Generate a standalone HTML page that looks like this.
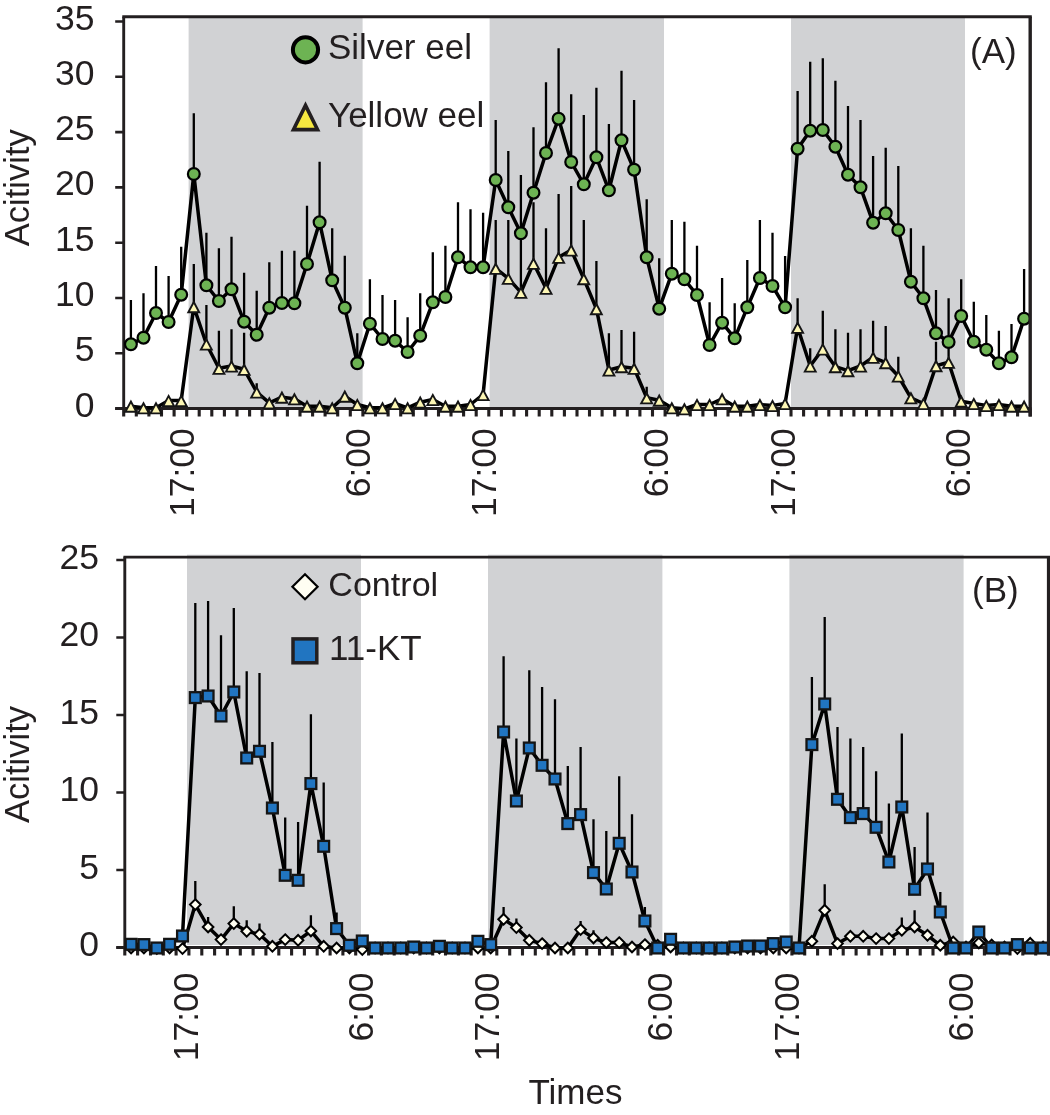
<!DOCTYPE html>
<html lang="en"><head><meta charset="utf-8"><title>Activity</title>
<style>html,body{margin:0;padding:0;background:#fff;overflow:hidden}svg{display:block}</style>
</head><body>
<svg width="1050" height="1115" viewBox="0 0 1050 1115" font-family="'Liberation Sans', sans-serif" font-size="35" fill="#231f20">
<rect width="1050" height="1115" fill="#fff"/>
<rect x="188.6" y="16.8" width="174" height="391.8" fill="#d1d2d4"/>
<rect x="489.6" y="16.8" width="174.4" height="391.8" fill="#d1d2d4"/>
<rect x="791" y="16.8" width="174" height="391.8" fill="#d1d2d4"/>
<path d="M122.3 16.8H1031.8" stroke="#231f20" stroke-width="3.1" fill="none"/>
<path d="M123.7 16.8V409.9" stroke="#231f20" stroke-width="2.9" fill="none"/>
<path d="M115.2 408.6H1031.5" stroke="#231f20" stroke-width="3" fill="none"/>
<path d="M123.7 408.6V416.6M136.3 408.6V416.6M148.9 408.6V416.6M161.5 408.6V416.6M174.1 408.6V416.6M186.7 408.6V416.6M199.2 408.6V416.6M211.8 408.6V416.6M224.4 408.6V416.6M237 408.6V416.6M249.6 408.6V416.6M262.2 408.6V416.6M274.8 408.6V416.6M287.4 408.6V416.6M300 408.6V416.6M312.6 408.6V416.6M325.1 408.6V416.6M337.7 408.6V416.6M350.3 408.6V416.6M362.9 408.6V416.6M375.5 408.6V416.6M388.1 408.6V416.6M400.7 408.6V416.6M413.3 408.6V416.6M425.9 408.6V416.6M438.5 408.6V416.6M451 408.6V416.6M463.6 408.6V416.6M476.2 408.6V416.6M488.8 408.6V416.6M501.4 408.6V416.6M514 408.6V416.6M526.6 408.6V416.6M539.2 408.6V416.6M551.8 408.6V416.6M564.4 408.6V416.6M577 408.6V416.6M589.5 408.6V416.6M602.1 408.6V416.6M614.7 408.6V416.6M627.3 408.6V416.6M639.9 408.6V416.6M652.5 408.6V416.6M665.1 408.6V416.6M677.7 408.6V416.6M690.3 408.6V416.6M702.9 408.6V416.6M715.4 408.6V416.6M728 408.6V416.6M740.6 408.6V416.6M753.2 408.6V416.6M765.8 408.6V416.6M778.4 408.6V416.6M791 408.6V416.6M803.6 408.6V416.6M816.2 408.6V416.6M828.8 408.6V416.6M841.3 408.6V416.6M853.9 408.6V416.6M866.5 408.6V416.6M879.1 408.6V416.6M891.7 408.6V416.6M904.3 408.6V416.6M916.9 408.6V416.6M929.5 408.6V416.6M942.1 408.6V416.6M954.7 408.6V416.6M967.2 408.6V416.6M979.8 408.6V416.6M992.4 408.6V416.6M1005 408.6V416.6M1017.6 408.6V416.6M1030.2 408.6V416.6" stroke="#231f20" stroke-width="3.1" fill="none"/>
<text x="94.6" y="416.6" text-anchor="end" font-size="35.5">0</text>
<text x="94.6" y="361.3" text-anchor="end" font-size="35.5">5</text>
<text x="94.6" y="306" text-anchor="end" font-size="35.5">10</text>
<text x="94.6" y="250.7" text-anchor="end" font-size="35.5">15</text>
<text x="94.6" y="195.4" text-anchor="end" font-size="35.5">20</text>
<text x="94.6" y="140.1" text-anchor="end" font-size="35.5">25</text>
<text x="94.6" y="84.8" text-anchor="end" font-size="35.5">30</text>
<text x="94.6" y="29.5" text-anchor="end" font-size="35.5">35</text>
<path d="M115.2 408.6H123.7M115.2 353.3H123.7M115.2 298H123.7M115.2 242.7H123.7M115.2 187.4H123.7M115.2 132.1H123.7M115.2 76.8H123.7M115.2 21.5H123.7" stroke="#231f20" stroke-width="2.6" fill="none"/>
<path d="M130.9 300V344.3M143.5 293.3V337.7M156 266V313M168.6 276V322M181.2 246.7V294.7M193.8 113.3V174M206.4 232.7V285.3M218.9 248.3V301M231.5 236.7V289.3M244.1 272.7V321.7M256.7 290.7V334.7M269.3 262.3V307.7M281.9 250.7V303M294.4 250.7V303.3M307 205.7V264M319.6 161.7V222.3M332.2 228.3V280.3M344.8 255.7V307.7M357.3 333.3V363.3M369.9 279.3V323.7M382.5 295V339M395.1 300V340.7M407.6 317.3V352M420.2 293.3V335.7M432.8 252.3V302.3M445.4 245.7V297M458 202.3V257.3M470.5 209.3V267.3M483.1 212.7V267.3M495.7 120V180M508.3 151V207.3M520.9 175V233.3M533.5 127.3V192.7M546 82.3V153M558.6 48.3V118.7M571.2 94.3V162M583.8 115V184.3M596.4 87.7V157.3M608.9 124V190.3M621.5 70.7V140.3M634.1 100V169.7M646.7 199.3V257.3M659.2 258.3V308.7M671.8 220V273.7M684.4 221.7V279.3M697 245.7V295M709.6 302.3V345M722.1 278V322.7M734.7 303.3V338.3M747.3 260V307.3M759.9 220V278M772.5 232.7V286M785.1 256V307.3M797.6 91V148.7M810.2 61.7V130.7M822.8 58.3V130M835.4 80.7V146.7M848 106V174.7M860.5 120V187.3M873.1 156V222.7M885.7 147.7V213.3M898.3 166V230M910.9 228.3V281.7M923.4 245.7V298.3M936 290V333.3M948.6 298.3V342M961.2 279.3V316M973.8 301.7V341.7M986.3 315V349.7M998.9 330.7V363.3M1011.5 324V357.3M1024.1 269V318.7" stroke="#000" stroke-width="2.3" fill="none"/>
<path d="M193.8 264V306.7M206.4 305V344M218.9 330.7V368.3M231.5 329.3V366M244.1 332.7V369.3M256.7 383.3V392M495.7 220V268.3M508.3 220V278.3M520.9 239.3V292.3M533.5 202.3V263.3M546 228.3V288.3M558.6 194V257.3M571.2 186V250M583.8 220V278.7M596.4 261V308.7M608.9 333.3V370M621.5 330V366.7M634.1 331.7V368.3M646.7 386.7V397.8M797.6 298.3V327.3M810.2 348.3V366M822.8 310.7V349M835.4 329.3V366.7M848 332.7V370.7M860.5 329.3V366M873.1 320.7V357.3M885.7 326V362.7M898.3 356.7V376M936 341.7V365.7M948.6 340V362.3" stroke="#000" stroke-width="2.3" fill="none"/>
<polyline points="130.9,344.3 143.5,337.7 156,313 168.6,322 181.2,294.7 193.8,174 206.4,285.3 218.9,301 231.5,289.3 244.1,321.7 256.7,334.7 269.3,307.7 281.9,303 294.4,303.3 307,264 319.6,222.3 332.2,280.3 344.8,307.7 357.3,363.3 369.9,323.7 382.5,339 395.1,340.7 407.6,352 420.2,335.7 432.8,302.3 445.4,297 458,257.3 470.5,267.3 483.1,267.3 495.7,180 508.3,207.3 520.9,233.3 533.5,192.7 546,153 558.6,118.7 571.2,162 583.8,184.3 596.4,157.3 608.9,190.3 621.5,140.3 634.1,169.7 646.7,257.3 659.2,308.7 671.8,273.7 684.4,279.3 697,295 709.6,345 722.1,322.7 734.7,338.3 747.3,307.3 759.9,278 772.5,286 785.1,307.3 797.6,148.7 810.2,130.7 822.8,130 835.4,146.7 848,174.7 860.5,187.3 873.1,222.7 885.7,213.3 898.3,230 910.9,281.7 923.4,298.3 936,333.3 948.6,342 961.2,316 973.8,341.7 986.3,349.7 998.9,363.3 1011.5,357.3 1024.1,318.7" fill="none" stroke="#000" stroke-width="3.5" stroke-linejoin="round"/>
<circle cx="130.9" cy="344.3" r="5.9" fill="#6db353" stroke="#000" stroke-width="2.2"/>
<circle cx="143.5" cy="337.7" r="5.9" fill="#6db353" stroke="#000" stroke-width="2.2"/>
<circle cx="156" cy="313" r="5.9" fill="#6db353" stroke="#000" stroke-width="2.2"/>
<circle cx="168.6" cy="322" r="5.9" fill="#6db353" stroke="#000" stroke-width="2.2"/>
<circle cx="181.2" cy="294.7" r="5.9" fill="#6db353" stroke="#000" stroke-width="2.2"/>
<circle cx="193.8" cy="174" r="5.9" fill="#6db353" stroke="#000" stroke-width="2.2"/>
<circle cx="206.4" cy="285.3" r="5.9" fill="#6db353" stroke="#000" stroke-width="2.2"/>
<circle cx="218.9" cy="301" r="5.9" fill="#6db353" stroke="#000" stroke-width="2.2"/>
<circle cx="231.5" cy="289.3" r="5.9" fill="#6db353" stroke="#000" stroke-width="2.2"/>
<circle cx="244.1" cy="321.7" r="5.9" fill="#6db353" stroke="#000" stroke-width="2.2"/>
<circle cx="256.7" cy="334.7" r="5.9" fill="#6db353" stroke="#000" stroke-width="2.2"/>
<circle cx="269.3" cy="307.7" r="5.9" fill="#6db353" stroke="#000" stroke-width="2.2"/>
<circle cx="281.9" cy="303" r="5.9" fill="#6db353" stroke="#000" stroke-width="2.2"/>
<circle cx="294.4" cy="303.3" r="5.9" fill="#6db353" stroke="#000" stroke-width="2.2"/>
<circle cx="307" cy="264" r="5.9" fill="#6db353" stroke="#000" stroke-width="2.2"/>
<circle cx="319.6" cy="222.3" r="5.9" fill="#6db353" stroke="#000" stroke-width="2.2"/>
<circle cx="332.2" cy="280.3" r="5.9" fill="#6db353" stroke="#000" stroke-width="2.2"/>
<circle cx="344.8" cy="307.7" r="5.9" fill="#6db353" stroke="#000" stroke-width="2.2"/>
<circle cx="357.3" cy="363.3" r="5.9" fill="#6db353" stroke="#000" stroke-width="2.2"/>
<circle cx="369.9" cy="323.7" r="5.9" fill="#6db353" stroke="#000" stroke-width="2.2"/>
<circle cx="382.5" cy="339" r="5.9" fill="#6db353" stroke="#000" stroke-width="2.2"/>
<circle cx="395.1" cy="340.7" r="5.9" fill="#6db353" stroke="#000" stroke-width="2.2"/>
<circle cx="407.6" cy="352" r="5.9" fill="#6db353" stroke="#000" stroke-width="2.2"/>
<circle cx="420.2" cy="335.7" r="5.9" fill="#6db353" stroke="#000" stroke-width="2.2"/>
<circle cx="432.8" cy="302.3" r="5.9" fill="#6db353" stroke="#000" stroke-width="2.2"/>
<circle cx="445.4" cy="297" r="5.9" fill="#6db353" stroke="#000" stroke-width="2.2"/>
<circle cx="458" cy="257.3" r="5.9" fill="#6db353" stroke="#000" stroke-width="2.2"/>
<circle cx="470.5" cy="267.3" r="5.9" fill="#6db353" stroke="#000" stroke-width="2.2"/>
<circle cx="483.1" cy="267.3" r="5.9" fill="#6db353" stroke="#000" stroke-width="2.2"/>
<circle cx="495.7" cy="180" r="5.9" fill="#6db353" stroke="#000" stroke-width="2.2"/>
<circle cx="508.3" cy="207.3" r="5.9" fill="#6db353" stroke="#000" stroke-width="2.2"/>
<circle cx="520.9" cy="233.3" r="5.9" fill="#6db353" stroke="#000" stroke-width="2.2"/>
<circle cx="533.5" cy="192.7" r="5.9" fill="#6db353" stroke="#000" stroke-width="2.2"/>
<circle cx="546" cy="153" r="5.9" fill="#6db353" stroke="#000" stroke-width="2.2"/>
<circle cx="558.6" cy="118.7" r="5.9" fill="#6db353" stroke="#000" stroke-width="2.2"/>
<circle cx="571.2" cy="162" r="5.9" fill="#6db353" stroke="#000" stroke-width="2.2"/>
<circle cx="583.8" cy="184.3" r="5.9" fill="#6db353" stroke="#000" stroke-width="2.2"/>
<circle cx="596.4" cy="157.3" r="5.9" fill="#6db353" stroke="#000" stroke-width="2.2"/>
<circle cx="608.9" cy="190.3" r="5.9" fill="#6db353" stroke="#000" stroke-width="2.2"/>
<circle cx="621.5" cy="140.3" r="5.9" fill="#6db353" stroke="#000" stroke-width="2.2"/>
<circle cx="634.1" cy="169.7" r="5.9" fill="#6db353" stroke="#000" stroke-width="2.2"/>
<circle cx="646.7" cy="257.3" r="5.9" fill="#6db353" stroke="#000" stroke-width="2.2"/>
<circle cx="659.2" cy="308.7" r="5.9" fill="#6db353" stroke="#000" stroke-width="2.2"/>
<circle cx="671.8" cy="273.7" r="5.9" fill="#6db353" stroke="#000" stroke-width="2.2"/>
<circle cx="684.4" cy="279.3" r="5.9" fill="#6db353" stroke="#000" stroke-width="2.2"/>
<circle cx="697" cy="295" r="5.9" fill="#6db353" stroke="#000" stroke-width="2.2"/>
<circle cx="709.6" cy="345" r="5.9" fill="#6db353" stroke="#000" stroke-width="2.2"/>
<circle cx="722.1" cy="322.7" r="5.9" fill="#6db353" stroke="#000" stroke-width="2.2"/>
<circle cx="734.7" cy="338.3" r="5.9" fill="#6db353" stroke="#000" stroke-width="2.2"/>
<circle cx="747.3" cy="307.3" r="5.9" fill="#6db353" stroke="#000" stroke-width="2.2"/>
<circle cx="759.9" cy="278" r="5.9" fill="#6db353" stroke="#000" stroke-width="2.2"/>
<circle cx="772.5" cy="286" r="5.9" fill="#6db353" stroke="#000" stroke-width="2.2"/>
<circle cx="785.1" cy="307.3" r="5.9" fill="#6db353" stroke="#000" stroke-width="2.2"/>
<circle cx="797.6" cy="148.7" r="5.9" fill="#6db353" stroke="#000" stroke-width="2.2"/>
<circle cx="810.2" cy="130.7" r="5.9" fill="#6db353" stroke="#000" stroke-width="2.2"/>
<circle cx="822.8" cy="130" r="5.9" fill="#6db353" stroke="#000" stroke-width="2.2"/>
<circle cx="835.4" cy="146.7" r="5.9" fill="#6db353" stroke="#000" stroke-width="2.2"/>
<circle cx="848" cy="174.7" r="5.9" fill="#6db353" stroke="#000" stroke-width="2.2"/>
<circle cx="860.5" cy="187.3" r="5.9" fill="#6db353" stroke="#000" stroke-width="2.2"/>
<circle cx="873.1" cy="222.7" r="5.9" fill="#6db353" stroke="#000" stroke-width="2.2"/>
<circle cx="885.7" cy="213.3" r="5.9" fill="#6db353" stroke="#000" stroke-width="2.2"/>
<circle cx="898.3" cy="230" r="5.9" fill="#6db353" stroke="#000" stroke-width="2.2"/>
<circle cx="910.9" cy="281.7" r="5.9" fill="#6db353" stroke="#000" stroke-width="2.2"/>
<circle cx="923.4" cy="298.3" r="5.9" fill="#6db353" stroke="#000" stroke-width="2.2"/>
<circle cx="936" cy="333.3" r="5.9" fill="#6db353" stroke="#000" stroke-width="2.2"/>
<circle cx="948.6" cy="342" r="5.9" fill="#6db353" stroke="#000" stroke-width="2.2"/>
<circle cx="961.2" cy="316" r="5.9" fill="#6db353" stroke="#000" stroke-width="2.2"/>
<circle cx="973.8" cy="341.7" r="5.9" fill="#6db353" stroke="#000" stroke-width="2.2"/>
<circle cx="986.3" cy="349.7" r="5.9" fill="#6db353" stroke="#000" stroke-width="2.2"/>
<circle cx="998.9" cy="363.3" r="5.9" fill="#6db353" stroke="#000" stroke-width="2.2"/>
<circle cx="1011.5" cy="357.3" r="5.9" fill="#6db353" stroke="#000" stroke-width="2.2"/>
<circle cx="1024.1" cy="318.7" r="5.9" fill="#6db353" stroke="#000" stroke-width="2.2"/>
<polyline points="130.9,406.2 143.5,407.8 156,407.8 168.6,400.5 181.2,400.5 193.8,306.7 206.4,344 218.9,368.3 231.5,366 244.1,369.3 256.7,392 269.3,402.8 281.9,397.2 294.4,398.8 307,406.2 319.6,406.2 332.2,407.8 344.8,396.2 357.3,404.5 369.9,407.8 382.5,407.8 395.1,403.5 407.6,407.8 420.2,402.2 432.8,399.5 445.4,406.2 458,406.2 470.5,404.5 483.1,394.5 495.7,268.3 508.3,278.3 520.9,292.3 533.5,263.3 546,288.3 558.6,257.3 571.2,250 583.8,278.7 596.4,308.7 608.9,370 621.5,366.7 634.1,368.3 646.7,397.8 659.2,400.2 671.8,407.8 684.4,408.8 697,404.5 709.6,404.5 722.1,398.8 734.7,406.2 747.3,406.2 759.9,404.5 772.5,405.5 785.1,403.5 797.6,327.3 810.2,366 822.8,349 835.4,366.7 848,370.7 860.5,366 873.1,357.3 885.7,362.7 898.3,376 910.9,397.8 923.4,403.5 936,365.7 948.6,362.3 961.2,401.2 973.8,403.5 986.3,405.5 998.9,404.5 1011.5,406.2 1024.1,406.2" fill="none" stroke="#000" stroke-width="3.5" stroke-linejoin="round"/>
<path d="M130.9 401.5L136.3 411.7L125.4 411.7Z" fill="#fdf7b5" stroke="#151515" stroke-width="1.9"/>
<path d="M143.5 403.2L148.9 413.4L138 413.4Z" fill="#fdf7b5" stroke="#151515" stroke-width="1.9"/>
<path d="M156 403.2L161.5 413.4L150.6 413.4Z" fill="#fdf7b5" stroke="#151515" stroke-width="1.9"/>
<path d="M168.6 395.9L174.1 406.1L163.2 406.1Z" fill="#fdf7b5" stroke="#151515" stroke-width="1.9"/>
<path d="M181.2 395.9L186.7 406.1L175.8 406.1Z" fill="#fdf7b5" stroke="#151515" stroke-width="1.9"/>
<path d="M193.8 302L199.2 312.2L188.3 312.2Z" fill="#fdf7b5" stroke="#151515" stroke-width="1.9"/>
<path d="M206.4 339.4L211.8 349.6L200.9 349.6Z" fill="#fdf7b5" stroke="#151515" stroke-width="1.9"/>
<path d="M218.9 363.7L224.4 373.9L213.5 373.9Z" fill="#fdf7b5" stroke="#151515" stroke-width="1.9"/>
<path d="M231.5 361.4L237 371.6L226.1 371.6Z" fill="#fdf7b5" stroke="#151515" stroke-width="1.9"/>
<path d="M244.1 364.7L249.6 374.9L238.7 374.9Z" fill="#fdf7b5" stroke="#151515" stroke-width="1.9"/>
<path d="M256.7 387.4L262.1 397.6L251.2 397.6Z" fill="#fdf7b5" stroke="#151515" stroke-width="1.9"/>
<path d="M269.3 398.2L274.7 408.4L263.8 408.4Z" fill="#fdf7b5" stroke="#151515" stroke-width="1.9"/>
<path d="M281.9 392.5L287.3 402.7L276.4 402.7Z" fill="#fdf7b5" stroke="#151515" stroke-width="1.9"/>
<path d="M294.4 394.2L299.9 404.4L289 404.4Z" fill="#fdf7b5" stroke="#151515" stroke-width="1.9"/>
<path d="M307 401.5L312.5 411.7L301.6 411.7Z" fill="#fdf7b5" stroke="#151515" stroke-width="1.9"/>
<path d="M319.6 401.5L325 411.7L314.1 411.7Z" fill="#fdf7b5" stroke="#151515" stroke-width="1.9"/>
<path d="M332.2 403.2L337.6 413.4L326.7 413.4Z" fill="#fdf7b5" stroke="#151515" stroke-width="1.9"/>
<path d="M344.8 391.5L350.2 401.7L339.3 401.7Z" fill="#fdf7b5" stroke="#151515" stroke-width="1.9"/>
<path d="M357.3 399.9L362.8 410.1L351.9 410.1Z" fill="#fdf7b5" stroke="#151515" stroke-width="1.9"/>
<path d="M369.9 403.2L375.4 413.4L364.5 413.4Z" fill="#fdf7b5" stroke="#151515" stroke-width="1.9"/>
<path d="M382.5 403.2L387.9 413.4L377 413.4Z" fill="#fdf7b5" stroke="#151515" stroke-width="1.9"/>
<path d="M395.1 398.9L400.5 409.1L389.6 409.1Z" fill="#fdf7b5" stroke="#151515" stroke-width="1.9"/>
<path d="M407.6 403.2L413.1 413.4L402.2 413.4Z" fill="#fdf7b5" stroke="#151515" stroke-width="1.9"/>
<path d="M420.2 397.5L425.7 407.7L414.8 407.7Z" fill="#fdf7b5" stroke="#151515" stroke-width="1.9"/>
<path d="M432.8 394.9L438.3 405.1L427.4 405.1Z" fill="#fdf7b5" stroke="#151515" stroke-width="1.9"/>
<path d="M445.4 401.5L450.8 411.7L439.9 411.7Z" fill="#fdf7b5" stroke="#151515" stroke-width="1.9"/>
<path d="M458 401.5L463.4 411.7L452.5 411.7Z" fill="#fdf7b5" stroke="#151515" stroke-width="1.9"/>
<path d="M470.5 399.9L476 410.1L465.1 410.1Z" fill="#fdf7b5" stroke="#151515" stroke-width="1.9"/>
<path d="M483.1 389.9L488.6 400.1L477.7 400.1Z" fill="#fdf7b5" stroke="#151515" stroke-width="1.9"/>
<path d="M495.7 263.7L501.2 273.9L490.3 273.9Z" fill="#fdf7b5" stroke="#151515" stroke-width="1.9"/>
<path d="M508.3 273.7L513.7 283.9L502.8 283.9Z" fill="#fdf7b5" stroke="#151515" stroke-width="1.9"/>
<path d="M520.9 287.7L526.3 297.9L515.4 297.9Z" fill="#fdf7b5" stroke="#151515" stroke-width="1.9"/>
<path d="M533.5 258.7L538.9 268.9L528 268.9Z" fill="#fdf7b5" stroke="#151515" stroke-width="1.9"/>
<path d="M546 283.7L551.5 293.9L540.6 293.9Z" fill="#fdf7b5" stroke="#151515" stroke-width="1.9"/>
<path d="M558.6 252.7L564.1 262.9L553.2 262.9Z" fill="#fdf7b5" stroke="#151515" stroke-width="1.9"/>
<path d="M571.2 245.3L576.6 255.6L565.7 255.6Z" fill="#fdf7b5" stroke="#151515" stroke-width="1.9"/>
<path d="M583.8 274L589.2 284.2L578.3 284.2Z" fill="#fdf7b5" stroke="#151515" stroke-width="1.9"/>
<path d="M596.4 304L601.8 314.2L590.9 314.2Z" fill="#fdf7b5" stroke="#151515" stroke-width="1.9"/>
<path d="M608.9 365.4L614.4 375.6L603.5 375.6Z" fill="#fdf7b5" stroke="#151515" stroke-width="1.9"/>
<path d="M621.5 362L627 372.2L616.1 372.2Z" fill="#fdf7b5" stroke="#151515" stroke-width="1.9"/>
<path d="M634.1 363.7L639.5 373.9L628.6 373.9Z" fill="#fdf7b5" stroke="#151515" stroke-width="1.9"/>
<path d="M646.7 393.2L652.1 403.4L641.2 403.4Z" fill="#fdf7b5" stroke="#151515" stroke-width="1.9"/>
<path d="M659.2 395.5L664.7 405.7L653.8 405.7Z" fill="#fdf7b5" stroke="#151515" stroke-width="1.9"/>
<path d="M671.8 403.2L677.3 413.4L666.4 413.4Z" fill="#fdf7b5" stroke="#151515" stroke-width="1.9"/>
<path d="M684.4 404.2L689.9 414.4L679 414.4Z" fill="#fdf7b5" stroke="#151515" stroke-width="1.9"/>
<path d="M697 399.9L702.4 410.1L691.5 410.1Z" fill="#fdf7b5" stroke="#151515" stroke-width="1.9"/>
<path d="M709.6 399.9L715 410.1L704.1 410.1Z" fill="#fdf7b5" stroke="#151515" stroke-width="1.9"/>
<path d="M722.1 394.2L727.6 404.4L716.7 404.4Z" fill="#fdf7b5" stroke="#151515" stroke-width="1.9"/>
<path d="M734.7 401.5L740.2 411.7L729.3 411.7Z" fill="#fdf7b5" stroke="#151515" stroke-width="1.9"/>
<path d="M747.3 401.5L752.8 411.7L741.9 411.7Z" fill="#fdf7b5" stroke="#151515" stroke-width="1.9"/>
<path d="M759.9 399.9L765.3 410.1L754.4 410.1Z" fill="#fdf7b5" stroke="#151515" stroke-width="1.9"/>
<path d="M772.5 400.9L777.9 411.1L767 411.1Z" fill="#fdf7b5" stroke="#151515" stroke-width="1.9"/>
<path d="M785.1 398.9L790.5 409.1L779.6 409.1Z" fill="#fdf7b5" stroke="#151515" stroke-width="1.9"/>
<path d="M797.6 322.7L803.1 332.9L792.2 332.9Z" fill="#fdf7b5" stroke="#151515" stroke-width="1.9"/>
<path d="M810.2 361.4L815.7 371.6L804.8 371.6Z" fill="#fdf7b5" stroke="#151515" stroke-width="1.9"/>
<path d="M822.8 344.4L828.2 354.6L817.3 354.6Z" fill="#fdf7b5" stroke="#151515" stroke-width="1.9"/>
<path d="M835.4 362L840.8 372.2L829.9 372.2Z" fill="#fdf7b5" stroke="#151515" stroke-width="1.9"/>
<path d="M848 366L853.4 376.2L842.5 376.2Z" fill="#fdf7b5" stroke="#151515" stroke-width="1.9"/>
<path d="M860.5 361.4L866 371.6L855.1 371.6Z" fill="#fdf7b5" stroke="#151515" stroke-width="1.9"/>
<path d="M873.1 352.7L878.6 362.9L867.7 362.9Z" fill="#fdf7b5" stroke="#151515" stroke-width="1.9"/>
<path d="M885.7 358L891.1 368.2L880.2 368.2Z" fill="#fdf7b5" stroke="#151515" stroke-width="1.9"/>
<path d="M898.3 371.4L903.7 381.6L892.8 381.6Z" fill="#fdf7b5" stroke="#151515" stroke-width="1.9"/>
<path d="M910.9 393.2L916.3 403.4L905.4 403.4Z" fill="#fdf7b5" stroke="#151515" stroke-width="1.9"/>
<path d="M923.4 398.9L928.9 409.1L918 409.1Z" fill="#fdf7b5" stroke="#151515" stroke-width="1.9"/>
<path d="M936 361L941.5 371.2L930.6 371.2Z" fill="#fdf7b5" stroke="#151515" stroke-width="1.9"/>
<path d="M948.6 357.7L954 367.9L943.1 367.9Z" fill="#fdf7b5" stroke="#151515" stroke-width="1.9"/>
<path d="M961.2 396.5L966.6 406.7L955.7 406.7Z" fill="#fdf7b5" stroke="#151515" stroke-width="1.9"/>
<path d="M973.8 398.9L979.2 409.1L968.3 409.1Z" fill="#fdf7b5" stroke="#151515" stroke-width="1.9"/>
<path d="M986.3 400.9L991.8 411.1L980.9 411.1Z" fill="#fdf7b5" stroke="#151515" stroke-width="1.9"/>
<path d="M998.9 399.9L1004.4 410.1L993.5 410.1Z" fill="#fdf7b5" stroke="#151515" stroke-width="1.9"/>
<path d="M1011.5 401.5L1016.9 411.7L1006 411.7Z" fill="#fdf7b5" stroke="#151515" stroke-width="1.9"/>
<path d="M1024.1 401.5L1029.5 411.7L1018.6 411.7Z" fill="#fdf7b5" stroke="#151515" stroke-width="1.9"/>
<path d="M1030.2 16.8V416.6" stroke="#231f20" stroke-width="3.4" fill="none"/>
<rect x="187" y="554.7" width="174" height="390.3" fill="#d1d2d4"/>
<rect x="488" y="554.7" width="174.4" height="390.3" fill="#d1d2d4"/>
<rect x="789.4" y="554.7" width="174.2" height="390.3" fill="#d1d2d4"/>
<path d="M123.4 557.2H1050.1" stroke="#231f20" stroke-width="2.8" fill="none"/>
<path d="M124.8 557.2V948.8" stroke="#231f20" stroke-width="2.9" fill="none"/>
<path d="M116.3 947.5H1049.8" stroke="#231f20" stroke-width="3" fill="none"/>
<path d="M124.8 947.5V955.5M137.6 947.5V955.5M150.5 947.5V955.5M163.3 947.5V955.5M176.1 947.5V955.5M188.9 947.5V955.5M201.8 947.5V955.5M214.6 947.5V955.5M227.4 947.5V955.5M240.3 947.5V955.5M253.1 947.5V955.5M265.9 947.5V955.5M278.8 947.5V955.5M291.6 947.5V955.5M304.4 947.5V955.5M317.2 947.5V955.5M330.1 947.5V955.5M342.9 947.5V955.5M355.7 947.5V955.5M368.6 947.5V955.5M381.4 947.5V955.5M394.2 947.5V955.5M407 947.5V955.5M419.9 947.5V955.5M432.7 947.5V955.5M445.5 947.5V955.5M458.4 947.5V955.5M471.2 947.5V955.5M484 947.5V955.5M496.8 947.5V955.5M509.7 947.5V955.5M522.5 947.5V955.5M535.3 947.5V955.5M548.2 947.5V955.5M561 947.5V955.5M573.8 947.5V955.5M586.7 947.5V955.5M599.5 947.5V955.5M612.3 947.5V955.5M625.1 947.5V955.5M638 947.5V955.5M650.8 947.5V955.5M663.6 947.5V955.5M676.5 947.5V955.5M689.3 947.5V955.5M702.1 947.5V955.5M714.9 947.5V955.5M727.8 947.5V955.5M740.6 947.5V955.5M753.4 947.5V955.5M766.3 947.5V955.5M779.1 947.5V955.5M791.9 947.5V955.5M804.7 947.5V955.5M817.6 947.5V955.5M830.4 947.5V955.5M843.2 947.5V955.5M856.1 947.5V955.5M868.9 947.5V955.5M881.7 947.5V955.5M894.5 947.5V955.5M907.4 947.5V955.5M920.2 947.5V955.5M933 947.5V955.5M945.9 947.5V955.5M958.7 947.5V955.5M971.5 947.5V955.5M984.4 947.5V955.5M997.2 947.5V955.5M1010 947.5V955.5M1022.8 947.5V955.5M1035.7 947.5V955.5M1048.5 947.5V955.5" stroke="#231f20" stroke-width="3.1" fill="none"/>
<text x="98.9" y="956.4" text-anchor="end" font-size="35.5">0</text>
<text x="98.9" y="878.9" text-anchor="end" font-size="35.5">5</text>
<text x="98.9" y="801.4" text-anchor="end" font-size="35.5">10</text>
<text x="98.9" y="723.9" text-anchor="end" font-size="35.5">15</text>
<text x="98.9" y="646.4" text-anchor="end" font-size="35.5">20</text>
<text x="98.9" y="568.9" text-anchor="end" font-size="35.5">25</text>
<path d="M116.3 947.5H124.8M116.3 870H124.8M116.3 792.5H124.8M116.3 715H124.8M116.3 637.5H124.8M116.3 560H124.8" stroke="#231f20" stroke-width="2.6" fill="none"/>
<path d="M195.3 881V904.6M208.1 917V927M233.8 906.3V923.6M246.7 920.3V931.3M259.5 923.6V934.3M310.9 915.3V931M503.6 907V919.3M516.4 918.6V927.6M580.6 921V929.6M593.5 930.3V938M824.7 884.3V910.3M901.8 917.6V930.3M914.6 910.3V927" stroke="#000" stroke-width="2.3" fill="none"/>
<path d="M195.3 603V697.6M208.1 601V696M221 635.3V716M233.8 608V692M246.7 671.3V758M259.5 673V751.3M272.4 742V808M285.2 817.6V875.3M298.1 822V880.3M310.9 714.3V783.6M323.7 782.6V846.3M336.6 912.6V928.6M503.6 656.3V732M516.4 738.6V801M529.3 670.3V748M542.1 687V765.3M555 699.3V779M567.8 766V823.6M580.6 747V814.6M593.5 819.3V872.6M606.3 831V889M619.2 776.3V843.3M632 814.3V872M644.9 907V921M811.9 677V744.6M824.7 617V704M837.5 727V799.3M850.4 738.6V817.6M863.2 747V813.6M876.1 771.3V827.3M888.9 803.6V862M901.8 733.6V807M914.6 847V889.3M927.5 812.6V869M940.3 892V912" stroke="#000" stroke-width="2.3" fill="none"/>
<polyline points="131.1,948 143.9,948 156.8,948.6 169.6,948 182.5,948.6 195.3,904.6 208.1,927 221,939.6 233.8,923.6 246.7,931.3 259.5,934.3 272.4,946.3 285.2,939.6 298.1,940.3 310.9,931 323.7,946.3 336.6,948 349.4,948 362.3,949.6 375.1,948 388,948 400.8,948 413.7,948 426.5,948 439.4,948 452.2,948 465,948 477.9,948 490.7,948 503.6,919.3 516.4,927.6 529.3,940.3 542.1,943.6 555,948 567.8,948 580.6,929.6 593.5,938 606.3,942.6 619.2,942.6 632,947 644.9,944.6 657.7,945.3 670.6,947 683.4,948 696.3,948 709.1,948 721.9,948 734.8,948 747.6,948 760.5,948 773.3,948 786.2,948 799,948 811.9,941.3 824.7,910.3 837.5,943.6 850.4,936.3 863.2,936.3 876.1,938.6 888.9,938.6 901.8,930.3 914.6,927 927.5,935.3 940.3,945.3 953.2,942 966,947 978.8,943 991.7,945 1004.5,947 1017.4,948.6 1030.2,943.3 1043.1,947" fill="none" stroke="#000" stroke-width="3.5" stroke-linejoin="round"/>
<path d="M131.1 942.7L136.4 948L131.1 953.3L125.8 948Z" fill="#fffef2" stroke="#000" stroke-width="2.0"/>
<path d="M143.9 942.7L149.2 948L143.9 953.3L138.6 948Z" fill="#fffef2" stroke="#000" stroke-width="2.0"/>
<path d="M156.8 943.3L162.1 948.6L156.8 953.9L151.5 948.6Z" fill="#fffef2" stroke="#000" stroke-width="2.0"/>
<path d="M169.6 942.7L174.9 948L169.6 953.3L164.3 948Z" fill="#fffef2" stroke="#000" stroke-width="2.0"/>
<path d="M182.5 943.3L187.8 948.6L182.5 953.9L177.2 948.6Z" fill="#fffef2" stroke="#000" stroke-width="2.0"/>
<path d="M195.3 899.3L200.6 904.6L195.3 909.9L190 904.6Z" fill="#fffef2" stroke="#000" stroke-width="2.0"/>
<path d="M208.1 921.7L213.4 927L208.1 932.3L202.8 927Z" fill="#fffef2" stroke="#000" stroke-width="2.0"/>
<path d="M221 934.3L226.3 939.6L221 944.9L215.7 939.6Z" fill="#fffef2" stroke="#000" stroke-width="2.0"/>
<path d="M233.8 918.3L239.1 923.6L233.8 928.9L228.5 923.6Z" fill="#fffef2" stroke="#000" stroke-width="2.0"/>
<path d="M246.7 926L252 931.3L246.7 936.6L241.4 931.3Z" fill="#fffef2" stroke="#000" stroke-width="2.0"/>
<path d="M259.5 929L264.8 934.3L259.5 939.6L254.2 934.3Z" fill="#fffef2" stroke="#000" stroke-width="2.0"/>
<path d="M272.4 941L277.7 946.3L272.4 951.6L267.1 946.3Z" fill="#fffef2" stroke="#000" stroke-width="2.0"/>
<path d="M285.2 934.3L290.5 939.6L285.2 944.9L279.9 939.6Z" fill="#fffef2" stroke="#000" stroke-width="2.0"/>
<path d="M298.1 935L303.4 940.3L298.1 945.6L292.8 940.3Z" fill="#fffef2" stroke="#000" stroke-width="2.0"/>
<path d="M310.9 925.7L316.2 931L310.9 936.3L305.6 931Z" fill="#fffef2" stroke="#000" stroke-width="2.0"/>
<path d="M323.7 941L329 946.3L323.7 951.6L318.4 946.3Z" fill="#fffef2" stroke="#000" stroke-width="2.0"/>
<path d="M336.6 942.7L341.9 948L336.6 953.3L331.3 948Z" fill="#fffef2" stroke="#000" stroke-width="2.0"/>
<path d="M349.4 942.7L354.7 948L349.4 953.3L344.1 948Z" fill="#fffef2" stroke="#000" stroke-width="2.0"/>
<path d="M362.3 944.3L367.6 949.6L362.3 954.9L357 949.6Z" fill="#fffef2" stroke="#000" stroke-width="2.0"/>
<path d="M375.1 942.7L380.4 948L375.1 953.3L369.8 948Z" fill="#fffef2" stroke="#000" stroke-width="2.0"/>
<path d="M388 942.7L393.3 948L388 953.3L382.7 948Z" fill="#fffef2" stroke="#000" stroke-width="2.0"/>
<path d="M400.8 942.7L406.1 948L400.8 953.3L395.5 948Z" fill="#fffef2" stroke="#000" stroke-width="2.0"/>
<path d="M413.7 942.7L419 948L413.7 953.3L408.4 948Z" fill="#fffef2" stroke="#000" stroke-width="2.0"/>
<path d="M426.5 942.7L431.8 948L426.5 953.3L421.2 948Z" fill="#fffef2" stroke="#000" stroke-width="2.0"/>
<path d="M439.4 942.7L444.7 948L439.4 953.3L434.1 948Z" fill="#fffef2" stroke="#000" stroke-width="2.0"/>
<path d="M452.2 942.7L457.5 948L452.2 953.3L446.9 948Z" fill="#fffef2" stroke="#000" stroke-width="2.0"/>
<path d="M465 942.7L470.3 948L465 953.3L459.7 948Z" fill="#fffef2" stroke="#000" stroke-width="2.0"/>
<path d="M477.9 942.7L483.2 948L477.9 953.3L472.6 948Z" fill="#fffef2" stroke="#000" stroke-width="2.0"/>
<path d="M490.7 942.7L496 948L490.7 953.3L485.4 948Z" fill="#fffef2" stroke="#000" stroke-width="2.0"/>
<path d="M503.6 914L508.9 919.3L503.6 924.6L498.3 919.3Z" fill="#fffef2" stroke="#000" stroke-width="2.0"/>
<path d="M516.4 922.3L521.7 927.6L516.4 932.9L511.1 927.6Z" fill="#fffef2" stroke="#000" stroke-width="2.0"/>
<path d="M529.3 935L534.6 940.3L529.3 945.6L524 940.3Z" fill="#fffef2" stroke="#000" stroke-width="2.0"/>
<path d="M542.1 938.3L547.4 943.6L542.1 948.9L536.8 943.6Z" fill="#fffef2" stroke="#000" stroke-width="2.0"/>
<path d="M555 942.7L560.3 948L555 953.3L549.7 948Z" fill="#fffef2" stroke="#000" stroke-width="2.0"/>
<path d="M567.8 942.7L573.1 948L567.8 953.3L562.5 948Z" fill="#fffef2" stroke="#000" stroke-width="2.0"/>
<path d="M580.6 924.3L585.9 929.6L580.6 934.9L575.3 929.6Z" fill="#fffef2" stroke="#000" stroke-width="2.0"/>
<path d="M593.5 932.7L598.8 938L593.5 943.3L588.2 938Z" fill="#fffef2" stroke="#000" stroke-width="2.0"/>
<path d="M606.3 937.3L611.6 942.6L606.3 947.9L601 942.6Z" fill="#fffef2" stroke="#000" stroke-width="2.0"/>
<path d="M619.2 937.3L624.5 942.6L619.2 947.9L613.9 942.6Z" fill="#fffef2" stroke="#000" stroke-width="2.0"/>
<path d="M632 941.7L637.3 947L632 952.3L626.7 947Z" fill="#fffef2" stroke="#000" stroke-width="2.0"/>
<path d="M644.9 939.3L650.2 944.6L644.9 949.9L639.6 944.6Z" fill="#fffef2" stroke="#000" stroke-width="2.0"/>
<path d="M657.7 940L663 945.3L657.7 950.6L652.4 945.3Z" fill="#fffef2" stroke="#000" stroke-width="2.0"/>
<path d="M670.6 941.7L675.9 947L670.6 952.3L665.3 947Z" fill="#fffef2" stroke="#000" stroke-width="2.0"/>
<path d="M683.4 942.7L688.7 948L683.4 953.3L678.1 948Z" fill="#fffef2" stroke="#000" stroke-width="2.0"/>
<path d="M696.3 942.7L701.6 948L696.3 953.3L691 948Z" fill="#fffef2" stroke="#000" stroke-width="2.0"/>
<path d="M709.1 942.7L714.4 948L709.1 953.3L703.8 948Z" fill="#fffef2" stroke="#000" stroke-width="2.0"/>
<path d="M721.9 942.7L727.2 948L721.9 953.3L716.6 948Z" fill="#fffef2" stroke="#000" stroke-width="2.0"/>
<path d="M734.8 942.7L740.1 948L734.8 953.3L729.5 948Z" fill="#fffef2" stroke="#000" stroke-width="2.0"/>
<path d="M747.6 942.7L752.9 948L747.6 953.3L742.3 948Z" fill="#fffef2" stroke="#000" stroke-width="2.0"/>
<path d="M760.5 942.7L765.8 948L760.5 953.3L755.2 948Z" fill="#fffef2" stroke="#000" stroke-width="2.0"/>
<path d="M773.3 942.7L778.6 948L773.3 953.3L768 948Z" fill="#fffef2" stroke="#000" stroke-width="2.0"/>
<path d="M786.2 942.7L791.5 948L786.2 953.3L780.9 948Z" fill="#fffef2" stroke="#000" stroke-width="2.0"/>
<path d="M799 942.7L804.3 948L799 953.3L793.7 948Z" fill="#fffef2" stroke="#000" stroke-width="2.0"/>
<path d="M811.9 936L817.2 941.3L811.9 946.6L806.6 941.3Z" fill="#fffef2" stroke="#000" stroke-width="2.0"/>
<path d="M824.7 905L830 910.3L824.7 915.6L819.4 910.3Z" fill="#fffef2" stroke="#000" stroke-width="2.0"/>
<path d="M837.5 938.3L842.8 943.6L837.5 948.9L832.2 943.6Z" fill="#fffef2" stroke="#000" stroke-width="2.0"/>
<path d="M850.4 931L855.7 936.3L850.4 941.6L845.1 936.3Z" fill="#fffef2" stroke="#000" stroke-width="2.0"/>
<path d="M863.2 931L868.5 936.3L863.2 941.6L857.9 936.3Z" fill="#fffef2" stroke="#000" stroke-width="2.0"/>
<path d="M876.1 933.3L881.4 938.6L876.1 943.9L870.8 938.6Z" fill="#fffef2" stroke="#000" stroke-width="2.0"/>
<path d="M888.9 933.3L894.2 938.6L888.9 943.9L883.6 938.6Z" fill="#fffef2" stroke="#000" stroke-width="2.0"/>
<path d="M901.8 925L907.1 930.3L901.8 935.6L896.5 930.3Z" fill="#fffef2" stroke="#000" stroke-width="2.0"/>
<path d="M914.6 921.7L919.9 927L914.6 932.3L909.3 927Z" fill="#fffef2" stroke="#000" stroke-width="2.0"/>
<path d="M927.5 930L932.8 935.3L927.5 940.6L922.2 935.3Z" fill="#fffef2" stroke="#000" stroke-width="2.0"/>
<path d="M940.3 940L945.6 945.3L940.3 950.6L935 945.3Z" fill="#fffef2" stroke="#000" stroke-width="2.0"/>
<path d="M953.2 936.7L958.5 942L953.2 947.3L947.9 942Z" fill="#fffef2" stroke="#000" stroke-width="2.0"/>
<path d="M966 941.7L971.3 947L966 952.3L960.7 947Z" fill="#fffef2" stroke="#000" stroke-width="2.0"/>
<path d="M978.8 937.7L984.1 943L978.8 948.3L973.5 943Z" fill="#fffef2" stroke="#000" stroke-width="2.0"/>
<path d="M991.7 939.7L997 945L991.7 950.3L986.4 945Z" fill="#fffef2" stroke="#000" stroke-width="2.0"/>
<path d="M1004.5 941.7L1009.8 947L1004.5 952.3L999.2 947Z" fill="#fffef2" stroke="#000" stroke-width="2.0"/>
<path d="M1017.4 943.3L1022.7 948.6L1017.4 953.9L1012.1 948.6Z" fill="#fffef2" stroke="#000" stroke-width="2.0"/>
<path d="M1030.2 938L1035.5 943.3L1030.2 948.6L1024.9 943.3Z" fill="#fffef2" stroke="#000" stroke-width="2.0"/>
<path d="M1043.1 941.7L1048.4 947L1043.1 952.3L1037.8 947Z" fill="#fffef2" stroke="#000" stroke-width="2.0"/>
<polyline points="131.1,944.3 143.9,944.6 156.8,948 169.6,944.3 182.5,936 195.3,697.6 208.1,696 221,716 233.8,692 246.7,758 259.5,751.3 272.4,808 285.2,875.3 298.1,880.3 310.9,783.6 323.7,846.3 336.6,928.6 349.4,945.3 362.3,941 375.1,948 388,948 400.8,948 413.7,947 426.5,948 439.4,946.3 452.2,948 465,948 477.9,941.3 490.7,944.6 503.6,732 516.4,801 529.3,748 542.1,765.3 555,779 567.8,823.6 580.6,814.6 593.5,872.6 606.3,889 619.2,843.3 632,872 644.9,921 657.7,948 670.6,939.3 683.4,948 696.3,948 709.1,948 721.9,948 734.8,947 747.6,946 760.5,946 773.3,943.6 786.2,942 799,948 811.9,744.6 824.7,704 837.5,799.3 850.4,817.6 863.2,813.6 876.1,827.3 888.9,862 901.8,807 914.6,889.3 927.5,869 940.3,912 953.2,948 966,948 978.8,932 991.7,948 1004.5,948 1017.4,944.6 1030.2,948 1043.1,948" fill="none" stroke="#000" stroke-width="3.5" stroke-linejoin="round"/>
<rect x="125.7" y="938.9" width="10.8" height="10.8" fill="#2175c1" stroke="#151515" stroke-width="2.3"/>
<rect x="138.5" y="939.2" width="10.8" height="10.8" fill="#2175c1" stroke="#151515" stroke-width="2.3"/>
<rect x="151.4" y="942.6" width="10.8" height="10.8" fill="#2175c1" stroke="#151515" stroke-width="2.3"/>
<rect x="164.2" y="938.9" width="10.8" height="10.8" fill="#2175c1" stroke="#151515" stroke-width="2.3"/>
<rect x="177.1" y="930.6" width="10.8" height="10.8" fill="#2175c1" stroke="#151515" stroke-width="2.3"/>
<rect x="189.9" y="692.2" width="10.8" height="10.8" fill="#2175c1" stroke="#151515" stroke-width="2.3"/>
<rect x="202.7" y="690.6" width="10.8" height="10.8" fill="#2175c1" stroke="#151515" stroke-width="2.3"/>
<rect x="215.6" y="710.6" width="10.8" height="10.8" fill="#2175c1" stroke="#151515" stroke-width="2.3"/>
<rect x="228.4" y="686.6" width="10.8" height="10.8" fill="#2175c1" stroke="#151515" stroke-width="2.3"/>
<rect x="241.3" y="752.6" width="10.8" height="10.8" fill="#2175c1" stroke="#151515" stroke-width="2.3"/>
<rect x="254.1" y="745.9" width="10.8" height="10.8" fill="#2175c1" stroke="#151515" stroke-width="2.3"/>
<rect x="267" y="802.6" width="10.8" height="10.8" fill="#2175c1" stroke="#151515" stroke-width="2.3"/>
<rect x="279.8" y="869.9" width="10.8" height="10.8" fill="#2175c1" stroke="#151515" stroke-width="2.3"/>
<rect x="292.7" y="874.9" width="10.8" height="10.8" fill="#2175c1" stroke="#151515" stroke-width="2.3"/>
<rect x="305.5" y="778.2" width="10.8" height="10.8" fill="#2175c1" stroke="#151515" stroke-width="2.3"/>
<rect x="318.3" y="840.9" width="10.8" height="10.8" fill="#2175c1" stroke="#151515" stroke-width="2.3"/>
<rect x="331.2" y="923.2" width="10.8" height="10.8" fill="#2175c1" stroke="#151515" stroke-width="2.3"/>
<rect x="344" y="939.9" width="10.8" height="10.8" fill="#2175c1" stroke="#151515" stroke-width="2.3"/>
<rect x="356.9" y="935.6" width="10.8" height="10.8" fill="#2175c1" stroke="#151515" stroke-width="2.3"/>
<rect x="369.7" y="942.6" width="10.8" height="10.8" fill="#2175c1" stroke="#151515" stroke-width="2.3"/>
<rect x="382.6" y="942.6" width="10.8" height="10.8" fill="#2175c1" stroke="#151515" stroke-width="2.3"/>
<rect x="395.4" y="942.6" width="10.8" height="10.8" fill="#2175c1" stroke="#151515" stroke-width="2.3"/>
<rect x="408.3" y="941.6" width="10.8" height="10.8" fill="#2175c1" stroke="#151515" stroke-width="2.3"/>
<rect x="421.1" y="942.6" width="10.8" height="10.8" fill="#2175c1" stroke="#151515" stroke-width="2.3"/>
<rect x="434" y="940.9" width="10.8" height="10.8" fill="#2175c1" stroke="#151515" stroke-width="2.3"/>
<rect x="446.8" y="942.6" width="10.8" height="10.8" fill="#2175c1" stroke="#151515" stroke-width="2.3"/>
<rect x="459.6" y="942.6" width="10.8" height="10.8" fill="#2175c1" stroke="#151515" stroke-width="2.3"/>
<rect x="472.5" y="935.9" width="10.8" height="10.8" fill="#2175c1" stroke="#151515" stroke-width="2.3"/>
<rect x="485.3" y="939.2" width="10.8" height="10.8" fill="#2175c1" stroke="#151515" stroke-width="2.3"/>
<rect x="498.2" y="726.6" width="10.8" height="10.8" fill="#2175c1" stroke="#151515" stroke-width="2.3"/>
<rect x="511" y="795.6" width="10.8" height="10.8" fill="#2175c1" stroke="#151515" stroke-width="2.3"/>
<rect x="523.9" y="742.6" width="10.8" height="10.8" fill="#2175c1" stroke="#151515" stroke-width="2.3"/>
<rect x="536.7" y="759.9" width="10.8" height="10.8" fill="#2175c1" stroke="#151515" stroke-width="2.3"/>
<rect x="549.6" y="773.6" width="10.8" height="10.8" fill="#2175c1" stroke="#151515" stroke-width="2.3"/>
<rect x="562.4" y="818.2" width="10.8" height="10.8" fill="#2175c1" stroke="#151515" stroke-width="2.3"/>
<rect x="575.2" y="809.2" width="10.8" height="10.8" fill="#2175c1" stroke="#151515" stroke-width="2.3"/>
<rect x="588.1" y="867.2" width="10.8" height="10.8" fill="#2175c1" stroke="#151515" stroke-width="2.3"/>
<rect x="600.9" y="883.6" width="10.8" height="10.8" fill="#2175c1" stroke="#151515" stroke-width="2.3"/>
<rect x="613.8" y="837.9" width="10.8" height="10.8" fill="#2175c1" stroke="#151515" stroke-width="2.3"/>
<rect x="626.6" y="866.6" width="10.8" height="10.8" fill="#2175c1" stroke="#151515" stroke-width="2.3"/>
<rect x="639.5" y="915.6" width="10.8" height="10.8" fill="#2175c1" stroke="#151515" stroke-width="2.3"/>
<rect x="652.3" y="942.6" width="10.8" height="10.8" fill="#2175c1" stroke="#151515" stroke-width="2.3"/>
<rect x="665.2" y="933.9" width="10.8" height="10.8" fill="#2175c1" stroke="#151515" stroke-width="2.3"/>
<rect x="678" y="942.6" width="10.8" height="10.8" fill="#2175c1" stroke="#151515" stroke-width="2.3"/>
<rect x="690.9" y="942.6" width="10.8" height="10.8" fill="#2175c1" stroke="#151515" stroke-width="2.3"/>
<rect x="703.7" y="942.6" width="10.8" height="10.8" fill="#2175c1" stroke="#151515" stroke-width="2.3"/>
<rect x="716.5" y="942.6" width="10.8" height="10.8" fill="#2175c1" stroke="#151515" stroke-width="2.3"/>
<rect x="729.4" y="941.6" width="10.8" height="10.8" fill="#2175c1" stroke="#151515" stroke-width="2.3"/>
<rect x="742.2" y="940.6" width="10.8" height="10.8" fill="#2175c1" stroke="#151515" stroke-width="2.3"/>
<rect x="755.1" y="940.6" width="10.8" height="10.8" fill="#2175c1" stroke="#151515" stroke-width="2.3"/>
<rect x="767.9" y="938.2" width="10.8" height="10.8" fill="#2175c1" stroke="#151515" stroke-width="2.3"/>
<rect x="780.8" y="936.6" width="10.8" height="10.8" fill="#2175c1" stroke="#151515" stroke-width="2.3"/>
<rect x="793.6" y="942.6" width="10.8" height="10.8" fill="#2175c1" stroke="#151515" stroke-width="2.3"/>
<rect x="806.5" y="739.2" width="10.8" height="10.8" fill="#2175c1" stroke="#151515" stroke-width="2.3"/>
<rect x="819.3" y="698.6" width="10.8" height="10.8" fill="#2175c1" stroke="#151515" stroke-width="2.3"/>
<rect x="832.1" y="793.9" width="10.8" height="10.8" fill="#2175c1" stroke="#151515" stroke-width="2.3"/>
<rect x="845" y="812.2" width="10.8" height="10.8" fill="#2175c1" stroke="#151515" stroke-width="2.3"/>
<rect x="857.8" y="808.2" width="10.8" height="10.8" fill="#2175c1" stroke="#151515" stroke-width="2.3"/>
<rect x="870.7" y="821.9" width="10.8" height="10.8" fill="#2175c1" stroke="#151515" stroke-width="2.3"/>
<rect x="883.5" y="856.6" width="10.8" height="10.8" fill="#2175c1" stroke="#151515" stroke-width="2.3"/>
<rect x="896.4" y="801.6" width="10.8" height="10.8" fill="#2175c1" stroke="#151515" stroke-width="2.3"/>
<rect x="909.2" y="883.9" width="10.8" height="10.8" fill="#2175c1" stroke="#151515" stroke-width="2.3"/>
<rect x="922.1" y="863.6" width="10.8" height="10.8" fill="#2175c1" stroke="#151515" stroke-width="2.3"/>
<rect x="934.9" y="906.6" width="10.8" height="10.8" fill="#2175c1" stroke="#151515" stroke-width="2.3"/>
<rect x="947.8" y="942.6" width="10.8" height="10.8" fill="#2175c1" stroke="#151515" stroke-width="2.3"/>
<rect x="960.6" y="942.6" width="10.8" height="10.8" fill="#2175c1" stroke="#151515" stroke-width="2.3"/>
<rect x="973.4" y="926.6" width="10.8" height="10.8" fill="#2175c1" stroke="#151515" stroke-width="2.3"/>
<rect x="986.3" y="942.6" width="10.8" height="10.8" fill="#2175c1" stroke="#151515" stroke-width="2.3"/>
<rect x="999.1" y="942.6" width="10.8" height="10.8" fill="#2175c1" stroke="#151515" stroke-width="2.3"/>
<rect x="1012" y="939.2" width="10.8" height="10.8" fill="#2175c1" stroke="#151515" stroke-width="2.3"/>
<rect x="1024.8" y="942.6" width="10.8" height="10.8" fill="#2175c1" stroke="#151515" stroke-width="2.3"/>
<rect x="1037.7" y="942.6" width="10.8" height="10.8" fill="#2175c1" stroke="#151515" stroke-width="2.3"/>
<path d="M1048.5 557.2V955.5" stroke="#231f20" stroke-width="3.2" fill="none"/>
<circle cx="305.5" cy="49.8" r="12.6" fill="#6db353" stroke="#000" stroke-width="4"/>
<text x="328" y="59.3">Silver eel</text>
<path d="M305.5 105.4L317.55 129.65L293.45 129.65Z" fill="#f6e840" stroke="#231f20" stroke-width="3.6"/>
<text x="328" y="126.5">Yellow eel</text>
<path d="M305 574.2L317.6 586.7L305 599.3L292.4 586.7Z" fill="#fffef2" stroke="#000" stroke-width="2.2"/>
<text x="328.3" y="595.5" font-size="34.1">Control</text>
<rect x="293" y="638.9" width="23.8" height="23.9" fill="#2175c1" stroke="#231f20" stroke-width="3.5"/>
<text x="329" y="660">11-KT</text>
<text x="970" y="63.4">(A)</text>
<text x="972" y="601.6">(B)</text>
<text transform="translate(29.4,187.7) rotate(-90)" text-anchor="middle" font-size="34.6">Acitivity</text>
<text transform="translate(29.4,764.5) rotate(-90)" text-anchor="middle" font-size="34.6">Acitivity</text>
<text x="575.5" y="1103.5" text-anchor="middle">Times</text>
<text transform="translate(194,428.2) rotate(-90)" text-anchor="end" font-size="35.5">17:00</text>
<text transform="translate(369.5,428.2) rotate(-90)" text-anchor="end" font-size="35.5">6:00</text>
<text transform="translate(495.5,428.2) rotate(-90)" text-anchor="end" font-size="35.5">17:00</text>
<text transform="translate(667.5,428.2) rotate(-90)" text-anchor="end" font-size="35.5">6:00</text>
<text transform="translate(795.3,428.2) rotate(-90)" text-anchor="end" font-size="35.5">17:00</text>
<text transform="translate(970.2,428.2) rotate(-90)" text-anchor="end" font-size="35.5">6:00</text>
<text transform="translate(197.5,972.4) rotate(-90)" text-anchor="end" font-size="35.5">17:00</text>
<text transform="translate(372.7,972.4) rotate(-90)" text-anchor="end" font-size="35.5">6:00</text>
<text transform="translate(499,972.4) rotate(-90)" text-anchor="end" font-size="35.5">17:00</text>
<text transform="translate(671.5,972.4) rotate(-90)" text-anchor="end" font-size="35.5">6:00</text>
<text transform="translate(799,972.4) rotate(-90)" text-anchor="end" font-size="35.5">17:00</text>
<text transform="translate(973.3,972.4) rotate(-90)" text-anchor="end" font-size="35.5">6:00</text>
</svg>
</body></html>
